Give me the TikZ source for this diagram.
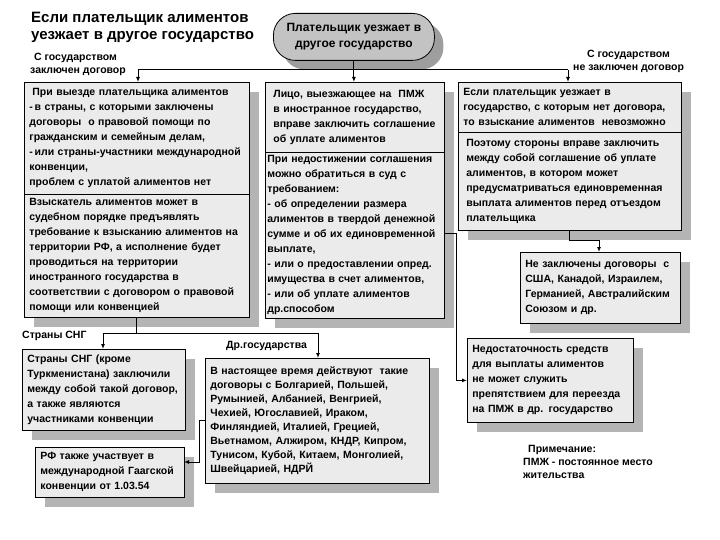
\documentclass[tikz,border=0pt]{standalone}
\usepackage{fontspec}
\setmainfont{Liberation Sans}
\usetikzlibrary{arrows.meta, positioning, shadows, calc}
\definecolor{BoxFill}{HTML}{EBEBEB}
\definecolor{ShadowGray}{HTML}{B4B4B4}
\definecolor{OvalFill}{HTML}{C3C3C3}
\definecolor{OvalShadow}{HTML}{9E9E9E}

\tikzset{
  card/.style={draw=black, line width=0.8pt, fill=BoxFill, anchor=north west,
    align=left, inner xsep=5pt, inner ysep=2pt,
    font=\bfseries\fontsize{10.5}{15}\selectfont,
    drop shadow={shadow xshift=10pt, shadow yshift=-10pt, fill=ShadowGray, opacity=1}},
  tag/.style={anchor=north west, align=left, inner sep=0pt,
    font=\bfseries\fontsize{10.5}{13}\selectfont},
  link/.style={line width=1pt},
  arr/.style={line width=1pt, -{Latex[length=5pt,width=4pt]}}
}

\begin{document}
\begin{tikzpicture}[x=1pt, y=-1pt]
\useasboundingbox (0,0) rectangle (720,540);
% --- Title and start node ---
\node[anchor=north west, align=left, inner sep=0pt, font=\bfseries\fontsize{15}{17}\selectfont]
  (title) at (31,12) {Если плательщик алиментов\\уезжает в другое государство};
\node[draw=black, line width=0.8pt, fill=OvalFill, rounded corners=22pt, anchor=north west,
  minimum width=161pt, minimum height=47pt, align=center, inner sep=0pt,
  font=\bfseries\fontsize{12}{16}\selectfont,
  drop shadow={shadow xshift=9pt, shadow yshift=-9pt, fill=OvalShadow, opacity=1}]
  (payer) at (273,13) {Плательщик уезжает в\\другое государство};
\node[tag] (withL) at (30,53) {\hspace{4pt}С государством\\заключен договор};
\node[tag, align=center] (withoutL) at (573,50) {С государством\\не заключен договор};

% --- Upper row of boxes ---
\node[card, text width=215pt, minimum height=112pt] (leftTop) at (24,82)
  {\hspace{3pt}При выезде плательщика алиментов\\-\,в страны, с которыми заключены\\договоры\ \ о правовой помощи по\\гражданским и семейным делам,\\-\,или страны-участники международной\\конвенции,\\проблем с уплатой алиментов нет};
\node[card, text width=215pt, minimum height=123pt] (leftLow) at (24,194)
  {Взыскатель алиментов может в\\судебном порядке предъявлять\\требование к взысканию алиментов на\\территории РФ, а исполнение будет\\проводиться на территории\\иностранного государства в\\соответствии с договором о правовой\\помощи или конвенцией};
\node[card, text width=169pt, minimum height=70pt] (midTop) at (265,82)
  {\hspace{3pt}Лицо, выезжающее на\ \ ПМЖ\\\hspace{3pt}в иностранное государство,\\\hspace{3pt}вправе заключить соглашение\\\hspace{3pt}об уплате алиментов};
\node[card, inner xsep=2pt, text width=175pt, minimum height=166pt] (midLow) at (265,152)
  {При недостижении соглашения\\можно обратиться в суд с\\требованием:\\- об определении размера\\алиментов в твердой денежной\\сумме и\ об их единовременной\\выплате,\\- или о предоставлении опред.\\имущества в счет алиментов,\\- или об уплате алиментов\\др.способом};
\node[card, text width=213pt, minimum height=50pt] (rightTop) at (458,82)
  {Если плательщик уезжает в\\государство, с которым нет договора,\\то взыскание алиментов\ \ невозможно};
\node[card, text width=213pt, minimum height=98pt] (rightLow) at (458,132)
  {\hspace{3pt}Поэтому стороны вправе заключить\\\hspace{3pt}между собой соглашение об уплате\\\hspace{3pt}алиментов, в котором может\\\hspace{3pt}предусматриваться единовременная\\\hspace{3pt}выплата алиментов перед отъездом\\\hspace{3pt}плательщика};

% --- Lower boxes ---
\node[card, text width=150pt, minimum height=71pt] (noTreaty) at (520,252)
  {Не заключены договоры\ \ с\\США, Канадой, Израилем,\\Германией, Австралийским\\Союзом и др.};
\node[card, text width=156pt, minimum height=84pt] (lackBox) at (467,338)
  {Недостаточность средств\\для выплаты алиментов\\не может служить\\препятствием для переезда\\на ПМЖ в др. государство};
\node[card, text width=153pt, minimum height=81pt] (cisBox) at (22,349)
  {Страны СНГ (кроме\\Туркменистана) заключили\\между собой такой договор,\\а также являются\\участниками конвенции};
\node[card, text width=139pt, minimum height=50pt] (hagueBox) at (35,447)
  {РФ также участвует в\\международной Гаагской\\конвенции от 1.03.54};
\node[card, text width=214pt, minimum height=125pt,
  font=\bfseries\fontsize{10.5}{14}\selectfont] (otherBox) at (205,358)
  {В настоящее время действуют\ \ такие\\договоры с Болгарией, Польшей,\\Румынией, Албанией, Венгрией,\\Чехией, Югославией, Ираком,\\Финляндией, Италией, Грецией,\\Вьетнамом, Алжиром, КНДР, Кипром,\\Тунисом, Кубой, Китаем, Монголией,\\Швейцарией, НДРЙ};
\node[tag] (cisL) at (22,331) {Страны СНГ};
\node[tag] (otherL) at (226,341) {Др.государства};
\node[tag] (note) at (523,445) {\hspace{5pt}Примечание:\\ПМЖ - постоянное место\\жительства};

% --- Connectors ---
\coordinate (busL) at (138,70);
\coordinate (busR) at (568,70);
\draw[link] (busL) -- (busR);
\draw[arr] (payer.south) -- (payer.south |- midTop.north);
\draw[arr] (busL) -- (busL |- leftTop.north);
\draw[arr] (busR) -- (busR |- rightTop.north);

\coordinate (cisBus) at (103,333);
\coordinate (otherBus) at (318,333);
\draw[link] (leftLow.south) -- (leftLow.south |- cisBus);
\draw[link] (cisBus) -- (otherBus);
\draw[arr] (cisBus) -- (cisBus |- cisBox.north);
\draw[arr] (otherBus) -- (otherBus |- otherBox.north);

\coordinate (bendR) at (599,240);
\draw[arr] (rightLow.south) |- (bendR) -- (bendR |- noTreaty.north);

\coordinate (bendM) at (456,233);
\draw[arr] (midLow.east |- bendM) -- (bendM) |- (lackBox.west);

\coordinate (bendL) at (199,420);
\coordinate (hagueIn) at (184,462);
\draw[arr] (otherBox.west |- bendL) -- (bendL) |- (hagueIn);
\end{tikzpicture}
\end{document}
